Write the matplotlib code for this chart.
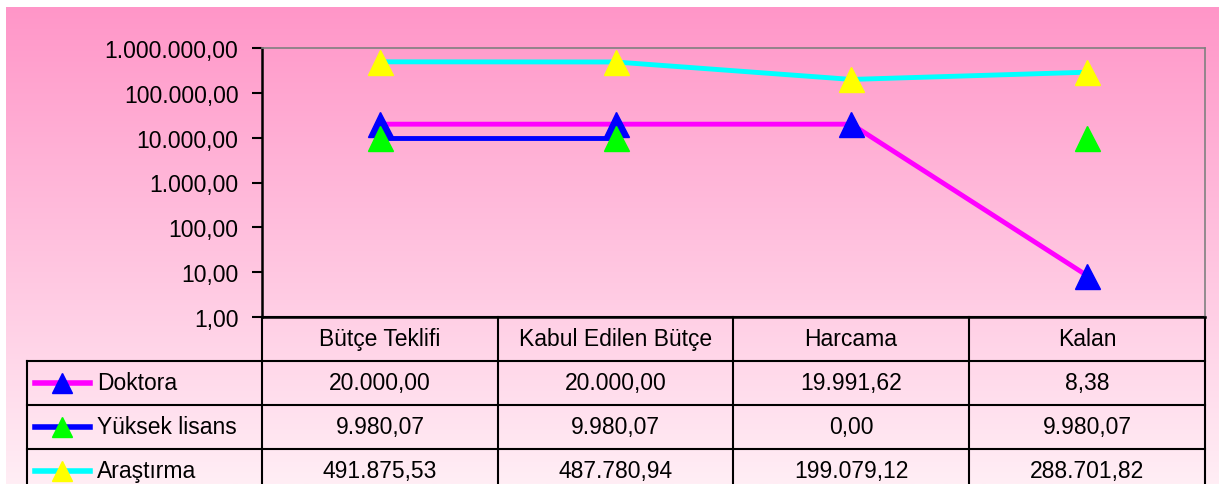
import matplotlib.pyplot as plt
import numpy as np

plt.rcParams['font.family'] = ['Liberation Sans', 'DejaVu Sans']

categories = ["Bütçe Teklifi", "Kabul Edilen Bütçe", "Harcama", "Kalan"]
series_names = ["Doktora", "Yüksek lisans", "Araştırma"]
doktora = [20000.00, 20000.00, 19991.62, 8.38]
yuksek_lisans = [9980.07, 9980.07, 0.00, 9980.07]
arastirma = [491875.53, 487780.94, 199079.12, 288701.82]
y_ticks = [1, 10, 100, 1000, 10000, 100000, 1000000]

line_colors = ["#FF00FF", "#0000FF", "#00FFFF"]
marker_colors = ["#0000FF", "#00FF00", "#FFFF00"]
FS = 16.5


def tr_fmt(v):
    s = f"{v:,.2f}"
    return s.replace(",", "X").replace(".", ",").replace("X", ".")


W, H = 1219, 485
fig = plt.figure(figsize=(W / 100, H / 100), dpi=100)

# background gradient over whole figure (overlay axes in pixel coords)
bg = fig.add_axes([0, 0, 1, 1])
bg.set_xlim(0, W)
bg.set_ylim(H, 0)
bg.axis("off")
top = np.array([255, 150, 200]) / 255
bot = np.array([255, 238, 245]) / 255
t = np.linspace(0, 1, 256)[:, None]
grad = (top[None, :] * (1 - t) + bot[None, :] * t)[:, None, :]
bg.imshow(grad, extent=[6, W, H, 8], aspect="auto", zorder=0)

# plot area
x0, x1, y0, y1 = 262, 1205, 49, 318
ax = fig.add_axes([x0 / W, (H - y1) / H, (x1 - x0) / W, (y1 - y0) / H])
ax.patch.set_alpha(0)
ax.set_yscale("log")
ax.set_ylim(1, 1000000)
ax.set_xlim(0, 4)
ax.set_yticks(y_ticks)
ax.set_yticklabels([tr_fmt(v) for v in y_ticks], fontsize=FS)
ax.minorticks_off()
ax.tick_params(axis="y", length=7, width=1.5, color="black", direction="out", pad=10)
ax.set_xticks([])
for side in ["top", "right"]:
    ax.spines[side].set_color("#808080")
    ax.spines[side].set_linewidth(1.2)
for side in ["left", "bottom"]:
    ax.spines[side].set_color("black")
    ax.spines[side].set_linewidth(1.8)

xs = np.arange(len(categories)) + 0.5
all_series = [doktora, yuksek_lisans, arastirma]
for i, vals in enumerate(all_series):
    v = np.array(vals, dtype=float)
    v[v <= 0] = np.nan
    ax.plot(xs, v, color=line_colors[i], lw=3.5, zorder=3 + i,
            marker="^", markersize=18, markerfacecolor=marker_colors[i],
            markeredgecolor=marker_colors[i], clip_on=False)

# data table
col_edges = [262, 498, 733, 969, 1205]
row_edges = [318, 362, 406, 450, 494]
lab_x = 27
lc = "black"
lw = 1.5
bg.plot([x0, x1], [row_edges[0], row_edges[0]], color=lc, lw=lw, zorder=5)
for r in row_edges[1:]:
    bg.plot([lab_x, x1], [r, r], color=lc, lw=lw, zorder=5)
for c in col_edges:
    bg.plot([c, c], [row_edges[0], H], color=lc, lw=lw, zorder=5)
bg.plot([lab_x, lab_x], [row_edges[1], H], color=lc, lw=lw, zorder=5)

for j, cat in enumerate(categories):
    cx = (col_edges[j] + col_edges[j + 1]) / 2
    bg.text(cx, (row_edges[0] + row_edges[1]) / 2, cat, ha="center",
            va="center", fontsize=FS, zorder=6)
for i, name in enumerate(series_names):
    cy = (row_edges[i + 1] + row_edges[i + 2]) / 2
    bg.plot([35, 90], [cy, cy], color=line_colors[i], lw=4, zorder=6)
    bg.plot([62], [cy], marker="^", markersize=15, color=marker_colors[i],
            zorder=7)
    bg.text(97, cy, name, ha="left", va="center", fontsize=FS, zorder=6)
    for j, v in enumerate(all_series[i]):
        cx = (col_edges[j] + col_edges[j + 1]) / 2
        bg.text(cx, cy, tr_fmt(v), ha="center", va="center",
                fontsize=FS, zorder=6)

fig.savefig("out.png", dpi=100)
